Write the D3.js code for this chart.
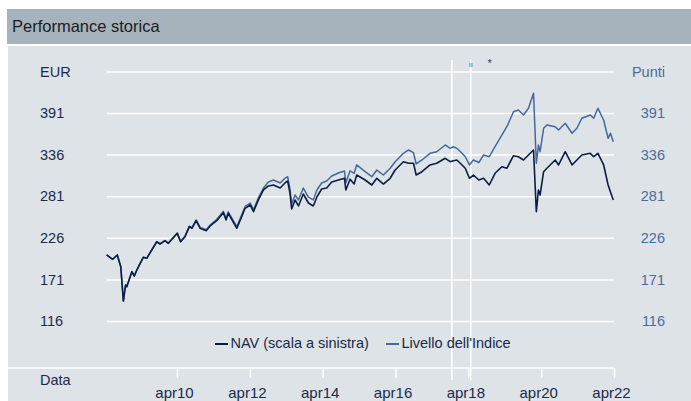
<!DOCTYPE html>
<html>
<head>
<meta charset="utf-8">
<script src="https://cdn.jsdelivr.net/npm/d3@7"></script>
<style>
  body { margin: 0; background: #fff; }
  svg { display: block; font-family: "Liberation Sans", Arial, sans-serif; }
</style>
</head>
<body>
<div id="chart"></div>
<script>
const dates = [
  "2008-04-25","2008-06-25","2008-08-10","2008-09-14","2008-10-10","2008-11-01","2008-11-13",
  "2009-01-03","2009-01-28","2009-02-22","2009-03-19","2009-04-28","2009-06-01","2009-07-22",
  "2009-09-10","2009-10-13","2009-12-01","2010-01-04","2010-02-18","2010-04-04","2010-05-07",
  "2010-06-20","2010-08-03","2010-08-29","2010-10-10","2010-11-19","2011-01-19","2011-02-28",
  "2011-05-04","2011-07-10","2011-08-06","2011-08-28","2011-11-22","2012-01-10","2012-02-13",
  "2012-04-04","2012-05-07","2012-06-25","2012-08-15","2012-10-04","2012-11-23","2013-01-30",
  "2013-03-19","2013-04-15","2013-05-08","2013-05-25","2013-06-28","2013-08-01","2013-09-19",
  "2013-11-09","2013-12-28","2014-02-02","2014-03-22","2014-05-11","2014-07-01","2014-09-06",
  "2014-11-06","2014-11-19","2015-01-01","2015-02-11","2015-03-08","2015-06-01","2015-08-07",
  "2015-09-26","2015-12-01","2016-02-07","2016-03-28","2016-06-19","2016-08-09","2016-09-28",
  "2016-10-25","2016-12-22","2017-03-13","2017-05-19","2017-08-12","2017-10-01","2017-11-03",
  "2017-12-07","2018-01-28","2018-03-01","2018-04-12","2018-05-22","2018-07-15","2018-09-01",
  "2018-10-28","2018-12-25","2019-03-03","2019-04-22","2019-06-28","2019-08-16","2019-10-06",
  "2019-11-25","2020-01-15","2020-02-12","2020-03-04","2020-03-21","2020-04-25","2020-05-28",
  "2020-08-19","2020-09-22","2020-11-28","2021-02-04","2021-03-25","2021-05-13","2021-08-06",
  "2021-09-09","2021-10-22","2021-12-18","2022-02-01","2022-02-24","2022-03-25"
];

const navValues = [
  203.3,197.6,203.3,187.8,142.4,163.6,161.3,
  181.2,175.5,183.4,190.0,200.2,198.9,209.9,
  220.8,217.8,222.2,218.7,225.3,231.9,220.8,
  227.5,240.7,238.6,248.6,238.6,235.4,241.6,
  248.6,259.2,249.5,258.4,238.6,253.9,265.0,
  269.4,260.5,276.0,289.2,294.5,295.8,291.8,
  298.5,301.1,285.2,264.1,276.0,268.1,283.9,
  272.0,268.1,279.9,290.5,291.8,299.8,302.4,
  304.7,289.2,303.5,297.1,309.0,302.4,295.8,
  304.7,297.1,304.7,315.6,326.6,324.5,324.5,
  309.0,313.4,322.3,324.5,331.1,326.6,327.9,
  328.9,322.3,317.9,304.7,309.0,302.4,304.7,
  295.8,311.3,320.0,317.9,334.5,333.2,328.9,
  335.5,342.1,260.5,289.2,282.6,313.4,317.9,
  328.9,322.3,339.8,322.3,328.9,335.5,337.7,
  333.2,337.7,322.3,295.8,286.9,276.0
];

const indexValues = [
  203.3,197.6,203.3,187.8,142.4,163.6,161.3,
  181.2,175.5,183.4,190.0,200.2,198.9,209.9,
  220.8,217.8,222.2,218.9,225.6,232.3,221.3,
  228.1,241.4,239.4,249.6,239.7,236.6,243.0,
  250.2,261.0,251.4,260.4,240.8,256.3,267.5,
  272.0,263.2,278.9,291.8,299.8,302.4,298.5,
  304.7,306.8,290.5,270.7,282.6,276.0,291.8,
  279.9,276.0,289.2,298.5,301.1,307.7,311.7,
  314.3,298.5,314.5,311.3,322.3,313.4,306.8,
  315.6,309.0,317.9,326.6,337.7,342.1,338.5,
  323.6,328.9,337.7,339.8,348.7,344.3,346.4,
  344.3,337.7,333.2,322.3,328.9,325.5,335.5,
  333.2,346.4,361.9,372.9,392.7,395.0,388.4,
  397.2,417.0,324.5,348.7,339.8,370.8,375.1,
  372.9,368.5,377.4,364.2,370.8,384.0,388.4,
  384.0,397.2,381.7,357.5,364.2,353.1
];

const yTicks = [116, 171, 226, 281, 336, 391];
const yTopTick = 446;
const xTickYears = [2010, 2012, 2014, 2016, 2018, 2020, 2022];
const markerDates = ["2017-10-18", "2018-04-25"];
const markerLabels = ["\u0131\u0131", "*"];
const seriesNames = ["NAV (scala a sinistra)", "Livello dell'Indice"];

const W = 691, H = 401;
const navColor = "#0c1d45", idxColor = "#44699a";
const textColor = "#1b2a4c";
const parse = d3.timeParse("%Y-%m-%d");

const svg = d3.select("#chart").append("svg")
  .attr("width", W).attr("height", H);

// title bar + panel
svg.append("rect").attr("x", 7).attr("y", 9).attr("width", W - 7).attr("height", 35).attr("fill", "#a6b2bc");
svg.append("text").attr("x", 12).attr("y", 32).attr("font-size", 16.5).attr("fill", "#1c1c1c").text("Performance storica");
svg.append("rect").attr("x", 8).attr("y", 46).attr("width", W - 8).attr("height", H - 46).attr("fill", "#dee3e7");

const x = d3.scaleTime()
  .domain([new Date(2010, 3, 1), new Date(2022, 3, 1)])
  .range([177, 614]);
const y = d3.scaleLinear().domain([116, 391]).range([321, 113]);

// gridlines
const grid = svg.append("g").attr("transform", "translate(107,0)")
  .call(d3.axisLeft(y).tickValues(yTicks.concat([yTopTick])).tickSize(-507).tickFormat(""));
grid.select(".domain").remove();
grid.selectAll("line").attr("stroke", "#fff").attr("stroke-width", 1.5);

// marker lines
const markers = markerDates.map(parse);
svg.selectAll(".marker").data(markers).enter().append("line")
  .attr("x1", d => x(d)).attr("x2", d => x(d))
  .attr("y1", 60).attr("y2", 380)
  .attr("stroke", "#fff").attr("stroke-width", 1.5);
svg.selectAll(".markerLabel").data(markers).enter().append("text")
  .attr("x", d => x(d) + 19).attr("y", 67)
  .attr("text-anchor", "middle").attr("font-size", (d, i) => i === 0 ? 8 : 10)
  .attr("fill", (d, i) => i === 0 ? "#5a6270" : textColor)
  .text((d, i) => markerLabels[i]);

// left / right axis labels
const yFmt = unit => d => d === yTopTick ? unit : d;
const left = svg.append("g").attr("transform", "translate(40,0)")
  .call(d3.axisRight(y).tickValues(yTicks.concat([yTopTick])).tickSize(0).tickPadding(0).tickFormat(yFmt("EUR")));
left.select(".domain").remove();
left.selectAll("text").attr("font-size", 14.5).attr("font-family", "Liberation Sans, Arial, sans-serif").attr("fill", textColor);

const right = svg.append("g").attr("transform", "translate(665,0)")
  .call(d3.axisLeft(y).tickValues(yTicks.concat([yTopTick])).tickSize(0).tickPadding(0).tickFormat(yFmt("Punti")));
right.select(".domain").remove();
right.selectAll("text").attr("font-size", 14.5).attr("font-family", "Liberation Sans, Arial, sans-serif").attr("fill", "#4a6c98");

// x axis
svg.append("line").attr("x1", 8).attr("x2", 614).attr("y1", 368).attr("y2", 368)
  .attr("stroke", "#fff").attr("stroke-width", 1.5);
const xa = svg.append("g").attr("transform", "translate(0,368)")
  .call(d3.axisBottom(x)
    .tickValues(xTickYears.map(yr => new Date(yr, 3, 1)))
    .tickSize(10).tickPadding(9)
    .tickFormat(d => "apr" + d3.timeFormat("%y")(d)));
xa.select(".domain").remove();
xa.selectAll("line").attr("stroke", "#fff").attr("stroke-width", 1.5);
xa.selectAll("text").attr("font-size", 15).attr("dx", -3)
  .attr("font-family", "Liberation Sans, Arial, sans-serif").attr("fill", textColor);
svg.append("text").attr("x", 40).attr("y", 385).attr("font-size", 14.5).attr("fill", textColor).text("Data");

// lines
const data = dates.map((d, i) => ({ date: parse(d), nav: navValues[i], idx: indexValues[i] }));
const line = key => d3.line().x(d => x(d.date)).y(d => y(d[key]));

svg.append("path").datum(data).attr("d", line("idx"))
  .attr("fill", "none").attr("stroke", idxColor).attr("stroke-width", 1.5).attr("stroke-linejoin", "round");
svg.append("path").datum(data).attr("d", line("nav"))
  .attr("fill", "none").attr("stroke", navColor).attr("stroke-width", 1.6).attr("stroke-linejoin", "round");

// legend
const legendX = [215, 386];
const legend = svg.selectAll(".legend").data(seriesNames).enter().append("g")
  .attr("transform", (d, i) => `translate(${legendX[i]},344)`);
legend.append("line").attr("x1", 0).attr("x2", 13).attr("y1", 0).attr("y2", 0)
  .attr("stroke", (d, i) => i === 0 ? navColor : idxColor).attr("stroke-width", 2);
legend.append("text").attr("x", 15.5).attr("y", 3.5).attr("font-size", 14.5).attr("fill", textColor).text(d => d);
</script>
</body>
</html>
